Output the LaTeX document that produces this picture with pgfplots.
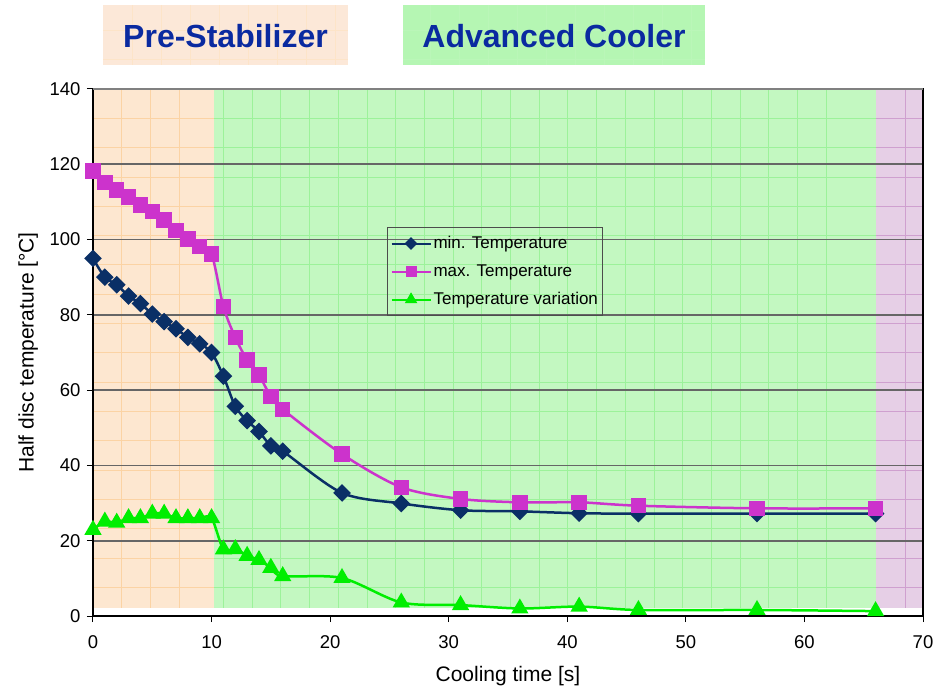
\documentclass[border=0pt]{standalone}
\usepackage{fontspec}
\setmainfont{Liberation Sans}
\usepackage{pgfplots}
\pgfplotsset{compat=1.18}
\definecolor{minc}{HTML}{0A2F66}
\definecolor{maxc}{HTML}{CC33CC}
\definecolor{varc}{HTML}{00EE00}
\definecolor{peach}{HTML}{FDE7D0}
\definecolor{peachline}{HTML}{FBD3A4}
\definecolor{lgreen}{HTML}{C3F8C1}
\definecolor{greenline}{HTML}{9CF29A}
\definecolor{lpurple}{HTML}{E6CFE6}
\definecolor{purpleline}{HTML}{CFA0CF}
\definecolor{hpeach}{HTML}{FCE8D8}
\definecolor{hgreen}{HTML}{B5F6B3}
\definecolor{titleblue}{HTML}{0A2AA0}
\begin{document}
\begin{tikzpicture}
\begin{scope}[x=1bp,y=-1bp,shift={(-93bp,616bp)}]
 \path (0,0) rectangle (942,688);
 % header boxes
 \fill[hpeach] (103,5) rectangle (348,65);
 \foreach \xx in {132,161,190,219,248,277,306,335} {\draw[peachline!60,line width=0.5bp] (\xx,5) -- (\xx,65);}
 \foreach \yy in {30,59} {\draw[peachline!60,line width=0.5bp] (103,\yy) -- (348,\yy);}
 \fill[hgreen] (403,5) rectangle (705,65);
 \foreach \xx in {430,459,488,517,546,575,604,633,662,691} {\draw[greenline!70,line width=0.5bp] (\xx,5) -- (\xx,65);}
 \foreach \yy in {30,59} {\draw[greenline!70,line width=0.5bp] (403,\yy) -- (705,\yy);}
 \node[font=\fontsize{32bp}{36bp}\selectfont\bfseries, text=titleblue] at (225.5,36) {Pre-Stabilizer};
 \node[font=\fontsize{32bp}{36bp}\selectfont\bfseries, text=titleblue] at (554,36) {Advanced Cooler};
 % plot-area backgrounds
 \fill[peach] (93,89) rectangle (214,608);
 \fill[lgreen] (214,89) rectangle (876,608);
 \fill[lpurple] (876,89) rectangle (923,608);
 \foreach \k in {1,...,17} {
   \pgfmathsetmacro\yy{89+29.3*\k}
   \draw[peachline,line width=0.6bp] (93,\yy) -- (214,\yy);
   \draw[greenline,line width=0.6bp] (214,\yy) -- (876,\yy);
   \draw[purpleline,line width=0.6bp] (876,\yy) -- (923,\yy);
 }
 \foreach \xx in {121,150.3,179.6} {\draw[peachline,line width=0.6bp] (\xx,89) -- (\xx,608);}
 \foreach \k in {0,...,21} {
   \pgfmathsetmacro\xx{826-28.7*\k}
   \draw[greenline,line width=0.6bp] (\xx,89) -- (\xx,608);
 }
 \draw[purpleline,line width=0.6bp] (905,89) -- (905,608);
\end{scope}
\begin{axis}[
  at={(0,0)}, anchor=south west,
  scale only axis, width=830bp, height=527bp,
  xmin=0, xmax=70, ymin=0, ymax=140,
  xtick={0,10,...,70}, ytick={0,20,...,140},
  tick pos=left, tick align=outside, major tick length=6bp,
  ymajorgrids, grid style={line width=1.8bp, color=black!60},
  axis line style={line width=1.5bp, black},
  tick style={black, line width=1bp},
  ticklabel style={font=\fontsize{18.5bp}{22bp}\selectfont},
  xticklabel style={yshift=-10bp},
  yticklabel style={xshift=-3bp},
  /pgf/number format/assume math mode=true,
  xlabel={Cooling time [s]},
  ylabel={Half disc temperature [°C]},
  label style={font=\fontsize{21bp}{24bp}\selectfont},
  xlabel style={at={(axis description cs:0.5,-0.1252)}, anchor=base},
  ylabel style={at={(axis description cs:-0.078,0.5)}, anchor=center},
  legend cell align=left,
  legend style={at={(axis cs:24.8,103.3)}, anchor=north west, draw=black!70, line width=1bp, fill=none,
    font=\fontsize{17bp}{20bp}\selectfont, inner xsep=3bp, inner ysep=7bp, row sep=10.5bp},
  legend image code/.code={\draw[#1, line width=2bp, mark repeat=2, mark phase=2, every mark/.append style={scale=0.7}] plot coordinates {(0bp,0bp) (19.5bp,0bp) (39bp,0bp)};},
]
\addplot[minc, line width=2.5bp, smooth, tension=0.5, mark=square*, mark size=5bp, mark options={rotate=45}] coordinates {
 (0,95) (1,90) (2,88) (3,85) (4,83) (5,80.2) (6,78.2) (7,76.3) (8,74) (9,72.3) (10,70)
 (11,63.7) (12,55.7) (13,51.9) (14,49) (15,45.2) (16,43.8) (21,32.7) (26,29.9) (31,28.1)
 (36,27.8) (41,27.3) (46,27.2) (56,27.2) (66,27.2)};
\addlegendentry{min. Temperature}
\addplot[maxc, line width=2.5bp, smooth, tension=0.5, mark=square*, mark size=6.5bp] coordinates {
 (0,118.2) (1,115.2) (2,113.2) (3,111.3) (4,109.2) (5,107.4) (6,105.2) (7,102.4) (8,100.1) (9,98.2) (10,96.2)
 (11,82.2) (12,74) (13,68) (14,64) (15,58.3) (16,54.9) (21,43) (26,34.2) (31,31.1)
 (36,30.2) (41,30.2) (46,29.3) (56,28.6) (66,28.6)};
\addlegendentry{max. Temperature}
\addplot[varc, line width=2.5bp, smooth, tension=0.5, mark=triangle*, mark size=7.5bp] coordinates {
 (0,22.9) (1,25.1) (2,24.8) (3,26) (4,26) (5,27.2) (6,27.2) (7,26) (8,26) (9,26) (10,26)
 (11,17.7) (12,17.8) (13,16) (14,14.9) (15,12.8) (16,10.6) (21,10.1) (26,3.6) (31,2.9)
 (36,2.0) (41,2.5) (46,1.6) (56,1.6) (66,1.3)};
\addlegendentry{Temperature variation}
\end{axis}
\begin{scope}[x=1bp,y=-1bp,shift={(-93bp,616bp)}]
 \draw[black!50, line width=1.5bp] (93,89) -- (923,89);
\end{scope}
\end{tikzpicture}
\end{document}
